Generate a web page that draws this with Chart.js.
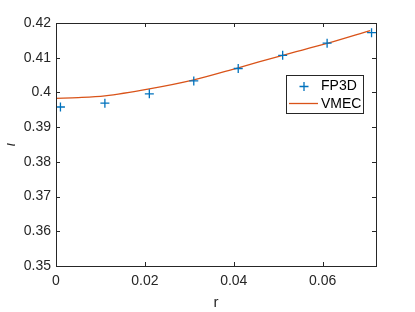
<!DOCTYPE html>
<html>
<head>
<meta charset="utf-8">
<script src="https://cdn.jsdelivr.net/npm/chart.js@4.4.1/dist/chart.umd.min.js"></script>
<style>
  html, body { margin: 0; padding: 0; background: #fff; }
  #wrap { width: 415px; height: 312px; }
</style>
</head>
<body>
<div id="wrap"><canvas id="c" width="415" height="312"></canvas></div>
<script>
// FP3D (markers)
const fp3dR = [0.001, 0.011, 0.021, 0.031, 0.041, 0.051, 0.061, 0.071];
const fp3dIota = [0.3958, 0.3969, 0.3996, 0.4033, 0.4069, 0.4107, 0.4142, 0.4172];
// VMEC (line)
const vmecR = [0, 0.005, 0.011, 0.021, 0.031, 0.041, 0.051, 0.061, 0.0707];
const vmecIota = [0.3983, 0.3985, 0.3990, 0.4010, 0.4036, 0.4071, 0.4107, 0.4141, 0.4178];

const xTicks = [0, 0.02, 0.04, 0.06];
const xTickLabels = ['0', '0.02', '0.04', '0.06'];
const yTicks = [0.35, 0.36, 0.37, 0.38, 0.39, 0.4, 0.41, 0.42];
const yTickLabels = ['0.35', '0.36', '0.37', '0.38', '0.39', '0.4', '0.41', '0.42'];
const yTitle = 'ι';

const AX = '#262626';
const FONT = 'Liberation Sans, Arial, sans-serif';

// MATLAB-style box with inward ticks, y title and legend inside the axes
const boxPlugin = {
  id: 'box',
  afterDraw(chart) {
    const { ctx, chartArea: a, scales } = chart;
    ctx.save();
    ctx.strokeStyle = AX;
    ctx.lineWidth = 1;
    ctx.strokeRect(a.left + 0.5, a.top + 0.5, a.right - a.left, a.bottom - a.top);
    const tl = 4;
    ctx.beginPath();
    xTicks.forEach(v => {
      const x = Math.round(scales.x.getPixelForValue(v)) + 0.5;
      ctx.moveTo(x, a.bottom); ctx.lineTo(x, a.bottom - tl);
      ctx.moveTo(x, a.top); ctx.lineTo(x, a.top + tl);
    });
    yTicks.forEach(v => {
      const y = Math.round(scales.y.getPixelForValue(v)) + 0.5;
      ctx.moveTo(a.left, y); ctx.lineTo(a.left + tl, y);
      ctx.moveTo(a.right, y); ctx.lineTo(a.right - tl, y);
    });
    ctx.stroke();

    // y title (rotated italic iota)
    ctx.save();
    ctx.translate(11, (a.top + a.bottom) / 2);
    ctx.rotate(-Math.PI / 2);
    ctx.fillStyle = AX;
    ctx.font = 'italic 15px ' + FONT;
    ctx.textAlign = 'center';
    ctx.textBaseline = 'middle';
    ctx.fillText(yTitle, 0, 0);
    ctx.restore();

    // legend
    const lx = 286.5, ly = 75.5, lw = 77, lh = 38;
    ctx.fillStyle = '#fff';
    ctx.fillRect(lx, ly, lw, lh);
    ctx.strokeStyle = '#262626';
    ctx.strokeRect(lx, ly, lw, lh);
    const ds = chart.data.datasets;
    ctx.font = '14px ' + FONT;
    ctx.textBaseline = 'middle';
    ctx.fillStyle = '#000';
    // FP3D
    ctx.strokeStyle = ds[0].borderColor;
    ctx.lineWidth = 1.3;
    ctx.beginPath();
    ctx.moveTo(299.5, 86.5); ctx.lineTo(308.5, 86.5);
    ctx.moveTo(304, 82); ctx.lineTo(304, 91);
    ctx.stroke();
    ctx.fillText(ds[0].label, 321, 86.5);
    // VMEC
    ctx.strokeStyle = ds[1].borderColor;
    ctx.beginPath();
    ctx.moveTo(289, 103.5); ctx.lineTo(318, 103.5);
    ctx.stroke();
    ctx.fillText(ds[1].label, 321, 104);
    ctx.restore();
  }
};

new Chart(document.getElementById('c'), {
  type: 'scatter',
  data: {
    datasets: [
      {
        label: 'FP3D',
        data: fp3dR.map((r, i) => ({ x: r, y: fp3dIota[i] })),
        pointStyle: 'cross',
        pointRadius: 4.5,
        borderColor: '#0072BD',
        backgroundColor: '#0072BD',
        borderWidth: 1.3,
        showLine: false
      },
      {
        label: 'VMEC',
        data: vmecR.map((r, i) => ({ x: r, y: vmecIota[i] })),
        showLine: true,
        borderColor: '#D95319',
        borderWidth: 1.3,
        pointRadius: 0,
        cubicInterpolationMode: 'monotone'
      }
    ]
  },
  options: {
    responsive: false,
    animation: false,
    layout: { padding: { top: 23, right: 39, left: 0, bottom: 0 } },
    plugins: { legend: { display: false }, tooltip: { enabled: false } },
    scales: {
      x: {
        type: 'linear',
        min: 0, max: 0.072,
        afterBuildTicks: s => { s.ticks = xTicks.map(v => ({ value: v })); },
        afterFit: s => { s.height = 46; },
        ticks: {
          callback: (v) => xTickLabels[xTicks.indexOf(v)],
          color: AX, padding: 7, maxRotation: 0,
          font: { family: FONT, size: 14 }
        },
        grid: { display: false, drawTicks: false },
        border: { display: false },
        title: { display: true, text: 'r', color: AX, padding: { top: 2, bottom: 0 }, font: { family: FONT, size: 15 } }
      },
      y: {
        type: 'linear',
        min: 0.35, max: 0.42,
        afterBuildTicks: s => { s.ticks = yTicks.map(v => ({ value: v })); },
        afterFit: s => { s.width = 56; },
        ticks: {
          callback: (v) => yTickLabels[yTicks.indexOf(v)],
          color: AX, padding: 5,
          font: { family: FONT, size: 14 }
        },
        grid: { display: false, drawTicks: false },
        border: { display: false },
        title: { display: false }
      }
    }
  },
  plugins: [boxPlugin]
});
</script>
</body>
</html>
